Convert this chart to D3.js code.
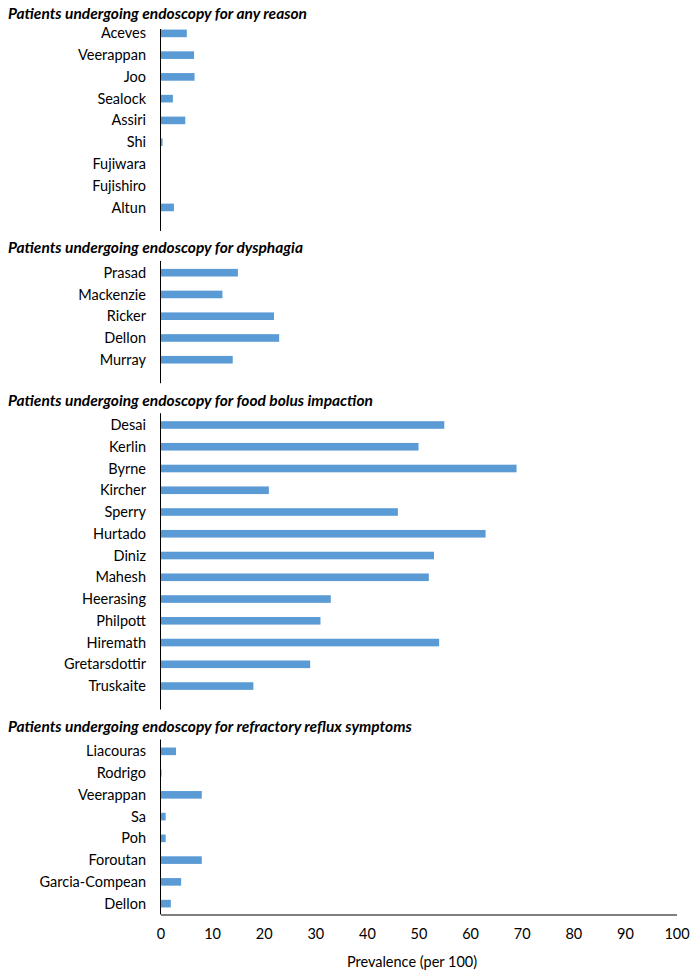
<!DOCTYPE html>
<html>
<head>
<meta charset="utf-8">
<script src="https://cdn.jsdelivr.net/npm/d3@7"></script>
<style>
  html, body { margin: 0; padding: 0; background: #fff; }
  svg text { font-family: Lato, "Open Sans", sans-serif; }
</style>
</head>
<body>
<svg id="chart" width="697" height="979"></svg>
<script>
const sectionTitles = [
  "Patients undergoing endoscopy for any reason",
  "Patients undergoing endoscopy for dysphagia",
  "Patients undergoing endoscopy for food bolus impaction",
  "Patients undergoing endoscopy for refractory reflux symptoms"
];
const anyReasonNames = ["Aceves","Veerappan","Joo","Sealock","Assiri","Shi","Fujiwara","Fujishiro","Altun"];
const anyReasonValues = [5.1, 6.5, 6.6, 2.4, 4.8, 0.4, 0, 0, 2.6];
const dysphagiaNames = ["Prasad","Mackenzie","Ricker","Dellon","Murray"];
const dysphagiaValues = [15, 12, 22, 23, 14];
const bolusNames = ["Desai","Kerlin","Byrne","Kircher","Sperry","Hurtado","Diniz","Mahesh","Heerasing","Philpott","Hiremath","Gretarsdottir","Truskaite"];
const bolusValues = [55, 50, 69, 21, 46, 63, 53, 52, 33, 31, 54, 29, 18];
const refluxNames = ["Liacouras","Rodrigo","Veerappan","Sa","Poh","Foroutan","Garcia-Compean","Dellon"];
const refluxValues = [3, 0.2, 8, 1, 1, 8, 4, 2];
const xTicks = [0,10,20,30,40,50,60,70,80,90,100];
const xTitle = "Prevalence (per 100)";

const sections = [
  {names: anyReasonNames, values: anyReasonValues},
  {names: dysphagiaNames, values: dysphagiaValues},
  {names: bolusNames, values: bolusValues},
  {names: refluxNames, values: refluxValues}
];

const rows = [];
sections.forEach((s, si) => {
  if (si > 0) {
    rows.push({key: "gap" + si + "a", blank: true, sec: si});
    rows.push({key: "gap" + si + "b", blank: true, sec: si, titleRow: true});
  }
  s.names.forEach((n, i) => rows.push({key: si + "_" + i, name: n, value: s.values[i], sec: si}));
});

const svg = d3.select("#chart");
const x0 = 160.5, x1 = 676.5, yBottom = 914.5, yTop = 22.5;
const x = d3.scaleLinear().domain([0, 100]).range([x0, x1]);
const y = d3.scaleBand().domain(rows.map(r => r.key)).range([yTop, yBottom]).paddingInner(0.65).paddingOuter(0.325);
const cy = k => y(k) + y.bandwidth() / 2;

svg.append("g").selectAll("rect").data(rows.filter(r => !r.blank)).join("rect")
  .attr("x", x(0))
  .attr("y", d => y(d.key))
  .attr("width", d => Math.max(0, x(d.value) - x(0)))
  .attr("height", y.bandwidth())
  .attr("fill", "#5B9BD5");

svg.append("g").selectAll("text").data(rows.filter(r => !r.blank)).join("text")
  .attr("x", 146)
  .attr("y", d => cy(d.key))
  .attr("dy", "0.35em")
  .attr("text-anchor", "end")
  .attr("font-size", 14.5)
  .attr("fill", "#000")
  .text(d => d.name);

const titleYs = [14];
rows.filter(r => r.titleRow).forEach(r => titleYs.push(cy(r.key) - 3));
svg.append("g").selectAll("text").data(sectionTitles).join("text")
  .attr("x", 8)
  .attr("y", (d, i) => titleYs[i])
  .attr("dy", "0.35em")
  .attr("font-size", 15.5)
  .attr("font-weight", "bold")
  .attr("font-style", "italic")
  .attr("fill", "#000")
  .text(d => d);

const segs = [];
for (let i = 0; i < titleYs.length; i++) {
  const start = i === 0 ? 29 : titleYs[i] + 13;
  const end = i === titleYs.length - 1 ? yBottom : titleYs[i + 1] - 17;
  segs.push([start, end]);
}
svg.append("g").selectAll("line").data(segs).join("line")
  .attr("x1", x(0)).attr("x2", x(0))
  .attr("y1", d => d[0]).attr("y2", d => d[1])
  .attr("stroke", "#000").attr("stroke-width", 1);

const xAxis = d3.axisBottom(x).tickValues(xTicks).tickSize(0).tickPadding(14);
const gx = svg.append("g").attr("transform", `translate(0,${yBottom})`).call(xAxis);
gx.select(".domain").attr("stroke", "#000");
gx.selectAll("text").attr("font-size", 14.5).attr("fill", "#000").attr("font-family", "Lato, sans-serif");

svg.append("text")
  .attr("x", 412)
  .attr("y", 962)
  .attr("dy", "0.35em")
  .attr("text-anchor", "middle")
  .attr("font-size", 14.5)
  .attr("fill", "#000")
  .text(xTitle);
</script>
</body>
</html>
